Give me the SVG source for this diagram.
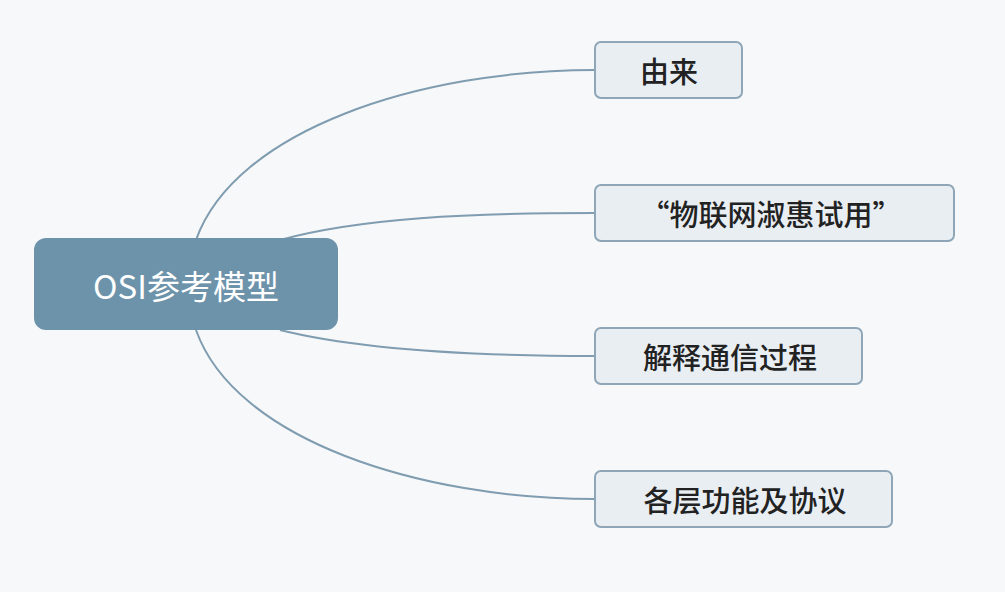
<svg xmlns="http://www.w3.org/2000/svg" width="1005" height="592" viewBox="0 0 1005 592">
<style>
.bg{fill:#f7f8f9}
.conn path{fill:none;stroke:#7f9cb0;stroke-width:2}
.child rect{fill:#e9eef3;stroke:#8ea6b7;stroke-width:2}
.child text{font-family:"Noto Sans CJK SC","Liberation Sans",sans-serif;font-size:29px;font-weight:500;fill:#222;text-anchor:middle;dominant-baseline:central}
.root rect{fill:#6d93ab}
.root text{font-family:"Noto Sans CJK SC","Liberation Sans",sans-serif;font-size:33px;fill:#fff;text-anchor:middle;dominant-baseline:central}
</style>
<rect class="bg" x="0" y="0" width="1005" height="592"/>
<g id="connectors" class="conn">
<path d="M196,240 C235,130 420,70 595,70"/>
<path d="M280,240 C360,218 470,213 595,213"/>
<path d="M280,330 C360,350 470,356 595,356"/>
<path d="M196,330 C235,440 420,499 595,499"/>
</g>
<g id="root" class="root">
<rect x="34" y="238" width="304" height="92" rx="12"/>
<text x="186" y="285">OSI参考模型</text>
</g>
<g id="node1" class="child">
<rect x="595" y="42" width="147" height="56" rx="6"/>
<text x="669" y="70">由来</text>
</g>
<g id="node2" class="child">
<rect x="595" y="185" width="359" height="56" rx="6"/>
<text x="771" y="213">“物联网淑惠试用”</text>
</g>
<g id="node3" class="child">
<rect x="595" y="328" width="267" height="56" rx="6"/>
<text x="730" y="356">解释通信过程</text>
</g>
<g id="node4" class="child">
<rect x="595" y="471" width="297" height="56" rx="6"/>
<text x="745" y="499">各层功能及协议</text>
</g>
</svg>
